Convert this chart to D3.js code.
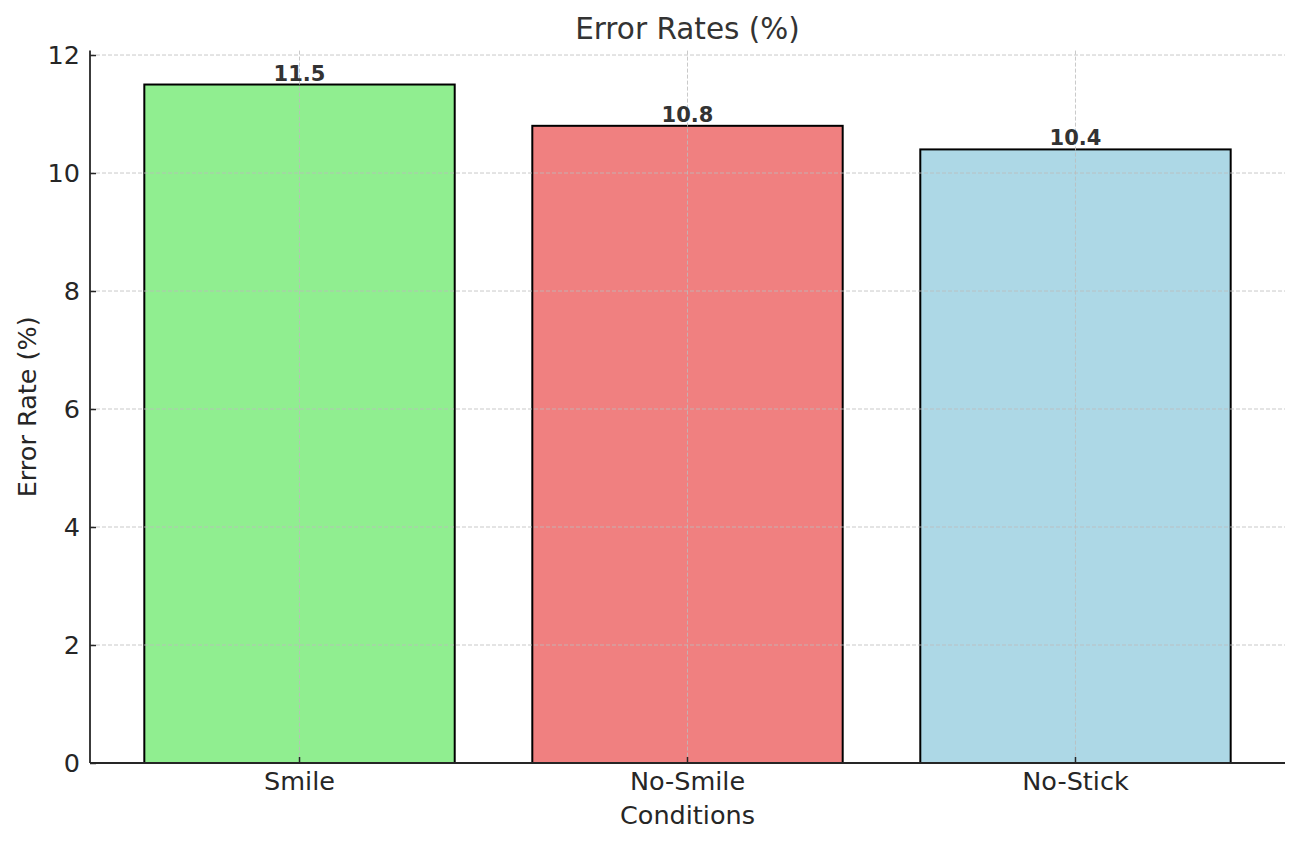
<!DOCTYPE html>
<html>
<head>
<meta charset="utf-8">
<script src="https://cdn.jsdelivr.net/npm/d3@7"></script>
<style>
  body { margin: 0; background: #fff; }
  text { font-family: "DejaVu Sans", sans-serif; }
</style>
</head>
<body>
<script>
// chart data
const conditions = ["Smile", "No-Smile", "No-Stick"];
const errorRates = [11.5, 10.8, 10.4];
const barColors = ["#90EE90", "#F08080", "#ADD8E6"];
const yTicks = [0, 2, 4, 6, 8, 10, 12];

const width = 1305, height = 849;
const margin = { top: 50.6, right: 20, bottom: 86, left: 90 };
const fs = "25.5px";

const svg = d3.select("body").append("svg")
  .attr("width", width).attr("height", height);

const x = d3.scaleBand()
  .domain(conditions)
  .range([margin.left, width - margin.right])
  .paddingInner(0.2)
  .paddingOuter(0.14);

const y = d3.scaleLinear()
  .domain([0, d3.max(errorRates) * 1.05])
  .range([height - margin.bottom, margin.top]);

// bars
svg.selectAll("rect.bar")
  .data(conditions)
  .enter().append("rect")
  .attr("class", "bar")
  .attr("x", d => x(d))
  .attr("y", (d, i) => y(errorRates[i]))
  .attr("width", x.bandwidth())
  .attr("height", (d, i) => y(0) - y(errorRates[i]))
  .attr("fill", (d, i) => barColors[i])
  .attr("stroke", "#000")
  .attr("stroke-width", 2);

// grid on top of bars
const grid = svg.append("g")
  .attr("stroke", "#bbb")
  .attr("stroke-opacity", 0.8)
  .attr("stroke-width", 1)
  .attr("stroke-dasharray", "4,2");

grid.selectAll("line.h")
  .data(yTicks)
  .enter().append("line")
  .attr("x1", margin.left).attr("x2", width - margin.right)
  .attr("y1", d => y(d)).attr("y2", d => y(d));

grid.selectAll("line.v")
  .data(conditions)
  .enter().append("line")
  .attr("x1", d => x(d) + x.bandwidth() / 2)
  .attr("x2", d => x(d) + x.bandwidth() / 2)
  .attr("y1", margin.top).attr("y2", height - margin.bottom);

// axes
const yAxis = svg.append("g")
  .attr("transform", `translate(${margin.left},0)`)
  .call(d3.axisLeft(y).tickValues(yTicks).tickSize(-6).tickPadding(10));

const xAxis = svg.append("g")
  .attr("transform", `translate(0,${height - margin.bottom})`)
  .call(d3.axisBottom(x).tickSize(-6).tickPadding(9));

[xAxis, yAxis].forEach(g => {
  g.select(".domain").attr("stroke", "#262626").attr("stroke-width", 1.8);
  g.selectAll(".tick line").attr("stroke", "#262626").attr("stroke-width", 1.5);
  g.selectAll(".tick text")
    .attr("fill", "#262626")
    .style("font-size", fs)
    .style("font-family", "DejaVu Sans");
});
xAxis.select(".domain").attr("d", `M${margin.left},0H${width - margin.right}`);
yAxis.select(".domain").attr("d", `M0,${height - margin.bottom}V${margin.top}`);

// value labels
svg.selectAll("text.val")
  .data(conditions)
  .enter().append("text")
  .attr("class", "val")
  .attr("x", d => x(d) + x.bandwidth() / 2)
  .attr("y", (d, i) => y(errorRates[i]) - 4)
  .attr("text-anchor", "middle")
  .attr("fill", "#333")
  .style("font-size", "21px")
  .style("font-weight", "bold")
  .text((d, i) => errorRates[i].toFixed(1));

// title and axis labels
svg.append("text")
  .attr("x", (margin.left + width - margin.right) / 2)
  .attr("y", 39)
  .attr("text-anchor", "middle")
  .attr("fill", "#333")
  .style("font-size", "29.5px")
  .text("Error Rates (%)");

svg.append("text")
  .attr("x", (margin.left + width - margin.right) / 2)
  .attr("y", 824)
  .attr("text-anchor", "middle")
  .attr("fill", "#262626")
  .style("font-size", fs)
  .text("Conditions");

svg.append("text")
  .attr("transform", `translate(36,${(margin.top + height - margin.bottom) / 2}) rotate(-90)`)
  .attr("text-anchor", "middle")
  .attr("fill", "#262626")
  .style("font-size", fs)
  .text("Error Rate (%)");
</script>
</body>
</html>
